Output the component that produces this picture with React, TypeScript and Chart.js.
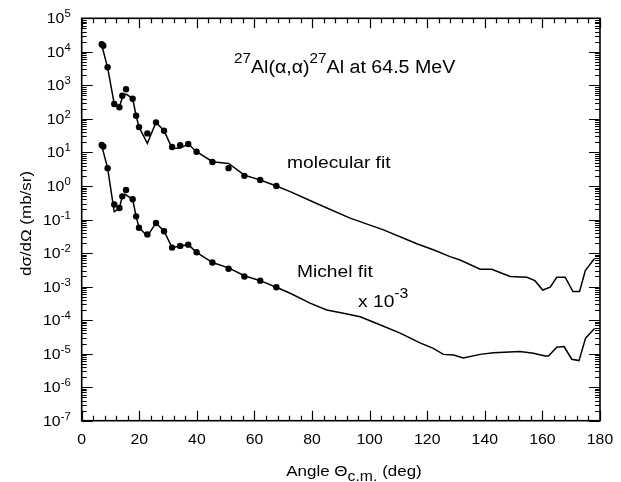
import React, { useEffect, useRef } from "react";
import { Chart, registerables } from "chart.js";

Chart.register(...registerables);

// Measured cross sections (upper: molecular fit panel, lower: Michel fit panel, x 10^-3)
const dataAngles = [6.95, 7.5, 9.0, 11.3, 13.1, 14.1, 15.4, 17.7, 18.9, 19.9, 22.8, 25.8, 28.6, 31.4, 34.2, 37.0, 39.9, 45.4, 51.0, 56.5, 62.0, 67.6];
const dataUpper = [16800, 15200, 3460, 278, 222, 492, 763, 400, 124, 57, 37, 79, 44.5, 14.5, 16.3, 17.8, 10.5, 5.2, 3.4, 2.0, 1.5, 1.0];
const dataLower = [16.6, 15.0, 3.4, 0.28, 0.22, 0.49, 0.76, 0.40, 0.124, 0.057, 0.036, 0.079, 0.0445, 0.0145, 0.0163, 0.0178, 0.0105, 0.0052, 0.0034, 0.0020, 0.0015, 0.00095];

// Molecular fit curve
const fitUpperAngles = [6.95, 9.0, 11.3, 13.1, 14.4, 15.6, 17.7, 18.9, 19.9, 22.8, 25.8, 28.6, 31.4, 34.2, 37.0, 39.9, 45.4, 51.0, 56.5, 62.0, 67.6, 72.4, 81.6, 93.2, 104.8, 116.4, 122.1, 127.9, 131.4, 138.4, 142.4, 148.8, 154.6, 157.4, 160.1, 162.7, 165.0, 167.9, 170.6, 172.9, 174.9, 178.1];
const fitUpperValues = [16000, 3400, 280, 230, 516, 540, 400, 124, 57, 18.6, 79, 44.5, 13.2, 13.5, 17.8, 10.5, 5.3, 4.7, 2.1, 1.5, 1.0, 0.68, 0.30, 0.11, 0.049, 0.019, 0.0125, 0.0078, 0.0062, 0.0033, 0.0033, 0.0020, 0.0019, 0.0015, 0.00079, 0.00096, 0.0019, 0.0019, 0.00071, 0.00071, 0.0030, 0.0069];

// Michel fit curve
const fitLowerAngles = [6.95, 9.0, 11.3, 13.1, 14.1, 15.0, 17.7, 18.9, 19.9, 22.8, 25.8, 28.6, 31.4, 34.2, 37.0, 39.9, 45.4, 51.0, 56.5, 62.0, 67.6, 72.4, 79.3, 85.1, 90.9, 96.7, 102.5, 110.6, 117.5, 122.1, 125.6, 129.1, 132.5, 138.4, 143.0, 152.2, 156.9, 160.9, 162.1, 165.0, 167.5, 170.2, 172.7, 175.0, 178.1];
const fitLowerValues = [16, 3.4, 0.17, 0.22, 0.49, 0.57, 0.40, 0.124, 0.057, 0.032, 0.079, 0.0445, 0.0145, 0.0163, 0.0178, 0.0105, 0.0052, 0.0036, 0.0021, 0.0015, 0.00095, 0.00063, 0.00032, 0.0002, 0.00016, 0.000126, 0.000079, 0.000041, 0.000021, 0.0000144, 0.0000095, 0.0000091, 0.0000074, 0.0000095, 0.0000107, 0.0000115, 0.0000102, 0.0000085, 0.0000085, 0.0000155, 0.0000162, 0.0000068, 0.0000062, 0.000029, 0.000056];

// Axis ticks
const xMajorTicks = [0, 20, 40, 60, 80, 100, 120, 140, 160, 180];
const xTickLabels = ["0", "20", "40", "60", "80", "100", "120", "140", "160", "180"];
const yExponents = [5, 4, 3, 2, 1, 0, -1, -2, -3, -4, -5, -6, -7];

const FONT = "'Liberation Sans', Arial, Helvetica, sans-serif";
const SX = 1.13; // horizontal stretch of the scanned lettering

type Seg = { t: string; size: number; dy: number };

function richWidth(ctx: CanvasRenderingContext2D, segs: Seg[], sx: number) {
  let w = 0;
  for (const s of segs) {
    ctx.font = `${s.size}px ${FONT}`;
    w += ctx.measureText(s.t).width * sx;
  }
  return w;
}

function drawRich(ctx: CanvasRenderingContext2D, segs: Seg[], x: number, y: number, align: "left" | "center" | "right", sx: number = SX) {
  const w = richWidth(ctx, segs, sx);
  let cx = align === "left" ? x : align === "center" ? x - w / 2 : x - w;
  ctx.textAlign = "left";
  ctx.textBaseline = "alphabetic";
  for (const s of segs) {
    ctx.font = `${s.size}px ${FONT}`;
    const sw = ctx.measureText(s.t).width * sx;
    ctx.save();
    ctx.translate(cx, y + s.dy);
    ctx.scale(sx, 1);
    ctx.fillText(s.t, 0, 0);
    ctx.restore();
    cx += sw;
  }
}

const decorPlugin = {
  id: "decor",
  afterDraw(chart: any) {
    const ctx: CanvasRenderingContext2D = chart.ctx;
    const xs = chart.scales.x;
    const ys = chart.scales.y;
    const { left, right, top, bottom } = chart.chartArea;
    ctx.save();
    ctx.strokeStyle = "#000";
    ctx.fillStyle = "#000";
    // frame
    ctx.lineWidth = 1.6;
    ctx.strokeRect(left, top, right - left, bottom - top);
    // x ticks
    ctx.lineWidth = 1.2;
    ctx.beginPath();
    for (let v = 0; v <= 180; v += 4) {
      const px = Math.round(xs.getPixelForValue(v)) + 0.5;
      const len = v % 20 === 0 ? 10 : 5;
      ctx.moveTo(px, bottom);
      ctx.lineTo(px, bottom - len);
      ctx.moveTo(px, top);
      ctx.lineTo(px, top + len);
    }
    // y ticks
    for (let e = -7; e <= 5; e++) {
      const py = Math.round(ys.getPixelForValue(Math.pow(10, e))) + 0.5;
      ctx.moveTo(left, py);
      ctx.lineTo(left + 11, py);
      ctx.moveTo(right, py);
      ctx.lineTo(right - 11, py);
      if (e < 5) {
        for (let m = 2; m <= 9; m++) {
          const pm = Math.round(ys.getPixelForValue(m * Math.pow(10, e))) + 0.5;
          ctx.moveTo(left, pm);
          ctx.lineTo(left + 5, pm);
          ctx.moveTo(right, pm);
          ctx.lineTo(right - 5, pm);
        }
      }
    }
    ctx.stroke();

    // x tick labels
    xMajorTicks.forEach((v, i) => {
      drawRich(ctx, [{ t: xTickLabels[i], size: 14, dy: 0 }], xs.getPixelForValue(v), bottom + 23, "center");
    });
    // y tick labels
    yExponents.forEach((e) => {
      const py = ys.getPixelForValue(Math.pow(10, e));
      drawRich(ctx, [{ t: "10", size: 14, dy: 0 }, { t: e < 0 ? "-" + Math.abs(e) : String(e), size: 10, dy: -6 }], left - 11, py + 5, "right");
    });

    // x axis title
    drawRich(ctx, [{ t: "Angle \u0398", size: 15, dy: 0 }, { t: "c.m.", size: 14, dy: 5 }, { t: " (deg)", size: 15, dy: 0 }], 354, 476, "center");

    // y axis title
    ctx.save();
    ctx.translate(31, top + (bottom - top) / 2 + 4);
    ctx.rotate(-Math.PI / 2);
    drawRich(ctx, [{ t: "d\u03C3/d\u03A9 (mb/sr)", size: 15, dy: 0 }], 0, 0, "center");
    ctx.restore();

    // chart title
    drawRich(ctx, [
      { t: "27", size: 14, dy: -10 },
      { t: "Al(\u03B1,\u03B1)", size: 18, dy: 0 },
      { t: "27", size: 14, dy: -10 },
      { t: "Al at 64.5 MeV", size: 18, dy: 0 },
    ], 234, 73, "left", 1.09);

    // annotations
    drawRich(ctx, [{ t: "molecular fit", size: 17, dy: 0 }], 287, 168, "left");
    drawRich(ctx, [{ t: "Michel fit", size: 17, dy: 0 }], 297, 277, "left");
    drawRich(ctx, [{ t: "x 10", size: 17, dy: 0 }, { t: "-3", size: 14, dy: -9 }], 358, 307, "left");
    ctx.restore();
  },
};

function toXY(xsArr: number[], ysArr: number[]) {
  return xsArr.map((x, i) => ({ x, y: ysArr[i] }));
}

export default function App() {
  const canvasRef = useRef<HTMLCanvasElement | null>(null);

  useEffect(() => {
    const canvas = canvasRef.current;
    if (!canvas) return;
    const lineStyle = {
      showLine: true,
      borderColor: "#000",
      borderWidth: 1.5,
      pointRadius: 0,
      tension: 0,
      fill: false,
    };
    const pointStyle = {
      showLine: false,
      backgroundColor: "#000",
      borderColor: "#000",
      pointRadius: 3.2,
      pointBorderWidth: 0,
    };
    const chart = new Chart(canvas, {
      type: "scatter",
      data: {
        datasets: [
          { label: "molecular fit", data: toXY(fitUpperAngles, fitUpperValues), ...lineStyle },
          { label: "Michel fit", data: toXY(fitLowerAngles, fitLowerValues), ...lineStyle },
          { label: "data", data: toXY(dataAngles, dataUpper), ...pointStyle },
          { label: "data x 10^-3", data: toXY(dataAngles, dataLower), ...pointStyle },
        ],
      } as any,
      options: {
        animation: false,
        responsive: false,
        devicePixelRatio: 1,
        layout: { padding: { left: 81.7, right: 21, top: 18.3, bottom: 61.3 } },
        plugins: {
          legend: { display: false },
          tooltip: { enabled: false },
          title: { display: false },
        },
        scales: {
          x: { type: "linear", min: 0, max: 180, display: false },
          y: { type: "logarithmic", min: 1e-7, max: 1e5, display: false },
        },
      } as any,
      plugins: [decorPlugin],
    });
    return () => chart.destroy();
  }, []);

  return (
    <div style={{ position: "fixed", left: 0, top: 0, width: 621, height: 482, background: "#fff" }}>
      <canvas ref={canvasRef} width={621} height={482} style={{ width: 621, height: 482, display: "block" }} />
    </div>
  );
}
